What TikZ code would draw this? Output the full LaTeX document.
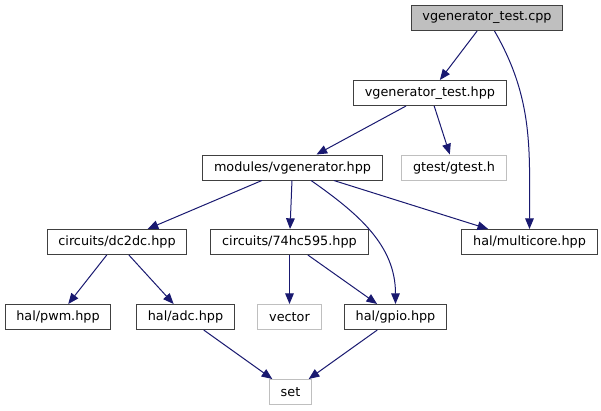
\documentclass[tikz,border=0pt]{standalone}
\usepackage{fontspec}
\setmainfont{DejaVu Sans}
\usetikzlibrary{arrows.meta,positioning}
\definecolor{edgeblue}{RGB}{25,25,112}
\definecolor{boxline}{RGB}{64,64,64}
\definecolor{sysline}{RGB}{191,191,191}
\definecolor{rootfill}{RGB}{191,191,191}
\tikzset{
  hbox/.style={draw=boxline, fill=white, line width=0.75pt, inner xsep=8.5pt,
               minimum height=18.75pt, font=\fontsize{9.6}{11}\selectfont},
  sbox/.style={hbox, draw=sysline},
  rbox/.style={hbox, fill=rootfill},
  incl/.style={-{Triangle[length=8pt,width=6.5pt]}, line width=0.75pt, draw=edgeblue},
}
\begin{document}
\begin{tikzpicture}[x=0.75pt, y=0.75pt]
    \useasboundingbox (0,0) rectangle (601,-411);
    \node[rbox] (cpp) at (487,-18) {vgenerator\_test.cpp};
    \node[hbox] (hpp) at (430,-93) {vgenerator\_test.hpp};
    \node[hbox] (modules) at (292.5,-167.5) {modules/vgenerator.hpp};
    \node[sbox] (gtest) at (454,-167.5) {gtest/gtest.h};
    \node[hbox] (dc2dc) at (117,-242) {circuits/dc2dc.hpp};
    \node[hbox] (hc595) at (289.5,-242) {circuits/74hc595.hpp};
    \node[hbox] (multicore) at (529.5,-242) {hal/multicore.hpp};
    \node[hbox] (pwm) at (58,-317) {hal/pwm.hpp};
    \node[hbox] (adc) at (185.5,-317) {hal/adc.hpp};
    \node[sbox] (vector) at (289.5,-317) {vector};
    \node[hbox] (gpio) at (395.5,-317) {hal/gpio.hpp};
    \node[sbox] (set) at (290.5,-392) {set};
    % includes
    \draw[incl] (cpp) -- (hpp);
    \draw[incl] (cpp) to[out=-60, in=90] (multicore);
    \draw[incl] (hpp) -- (modules);
    \draw[incl] (hpp) -- (gtest);
    \draw[incl] (modules) -- (dc2dc);
    \draw[incl] (modules) -- (hc595);
    \draw[incl] (modules) to[out=-35, in=90] (gpio);
    \draw[incl] (modules) -- (multicore);
    \draw[incl] (dc2dc) -- (pwm);
    \draw[incl] (dc2dc) -- (adc);
    \draw[incl] (hc595) -- (vector);
    \draw[incl] (hc595) -- (gpio);
    \draw[incl] (adc) -- (set);
    \draw[incl] (gpio) -- (set);
  \end{tikzpicture}
\end{document}
